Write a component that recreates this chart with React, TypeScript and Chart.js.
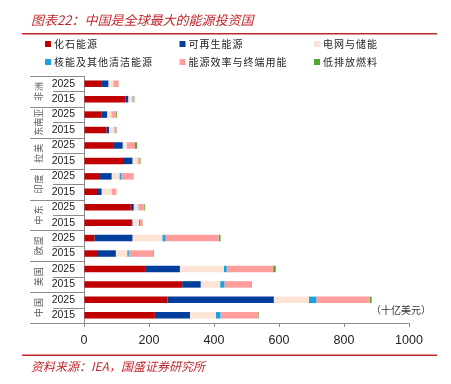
import React, { useEffect, useRef } from "react";
import { Chart, registerables } from "chart.js";
Chart.register(...registerables);

const groups = ["非洲", "东南亚", "拉美", "印度", "中东", "欧盟", "美国", "中国"];
const years = ["2025", "2015"];
const categories = groups.flatMap(() => years);

const seriesNames = ["化石能源", "可再生能源", "电网与储能", "核能及其他清洁能源", "能源效率与终端用能", "低排放燃料"];
const seriesColors = ["#C00000", "#023F9D", "#FBE3D6", "#1CA2DC", "#FF9D9D", "#4EA72E"];

const fossil = [55, 127, 53, 69, 92, 120, 49, 40, 144, 145, 32, 43, 188, 302, 257, 218];
const renewables = [20, 9, 18, 8, 27, 29, 36, 14, 9, 4, 117, 55, 107, 57, 327, 108];
const gridStorage = [15, 12, 13, 16, 13, 16, 24, 31, 14, 20, 92, 35, 135, 60, 108, 80];
const nuclearClean = [1, 1, 1, 1, 1, 1, 6, 1, 1, 3, 10, 5, 9, 13, 23, 14];
const efficiency = [15, 5, 13, 6, 24, 5, 36, 14, 16, 8, 163, 75, 143, 83, 164, 116];
const lowEmission = [1, 1, 3, 1, 6, 3, 1, 0, 3, 1, 6, 2, 8, 2, 6, 2];

const xTicks = [0, 200, 400, 600, 800, 1000];

const title = "图表22：中国是全球最大的能源投资国";
const unitLabel = "（十亿美元）";
const source = "资料来源：IEA，国盛证券研究所";

const RED = "#C0272D";
const CJK = '"Noto Sans CJK SC", sans-serif';

const decorPlugin = {
  id: "decor",
  afterDraw(chart: any) {
    const ctx = chart.ctx as CanvasRenderingContext2D;
    const y = chart.scales.y;
    ctx.save();

    // Title
    ctx.fillStyle = RED;
    ctx.font = `italic 13px ${CJK}`;
    ctx.textBaseline = "middle";
    ctx.textAlign = "left";
    ctx.fillText(title, 31, 20);

    // red rules
    ctx.strokeStyle = RED;
    ctx.lineWidth = 1.6;
    ctx.beginPath();
    ctx.moveTo(22, 33.7);
    ctx.lineTo(437, 33.7);
    ctx.moveTo(22, 355.3);
    ctx.lineTo(437, 355.3);
    ctx.stroke();

    // legend
    const cols = [45, 179.5, 314];
    const rows = [44, 62];
    ctx.font = `10px ${CJK}`;
    (ctx as any).letterSpacing = "1px";
    seriesNames.forEach((name, i) => {
      const cx = cols[i % 3];
      const cy = rows[Math.floor(i / 3)];
      ctx.fillStyle = seriesColors[i];
      ctx.fillRect(cx, cy - 3, 6, 6);
      ctx.fillStyle = "#222";
      ctx.textBaseline = "middle";
      ctx.fillText(name, cx + 9, cy);
    });
    (ctx as any).letterSpacing = "0px";

    // separators
    const p0 = y.getPixelForValue(0);
    const p1 = y.getPixelForValue(1);
    const half = (p1 - p0) / 2;
    const right = chart.chartArea.left;
    ctx.strokeStyle = "#8c8c8c";
    ctx.lineWidth = 1;
    for (let i = 0; i <= categories.length; i++) {
      const yy = Math.round(y.getPixelForValue(i) - half) + 0.5;
      const startX = i % 2 === 0 ? 30 : 53;
      ctx.beginPath();
      ctx.moveTo(startX, yy);
      ctx.lineTo(right, yy);
      ctx.stroke();
    }

    // group labels
    ctx.fillStyle = "#595959";
    ctx.font = `9px ${CJK}`;
    groups.forEach((g, gi) => {
      const cy = (y.getPixelForValue(gi * 2) + y.getPixelForValue(gi * 2 + 1)) / 2;
      (ctx as any).letterSpacing = g.length > 2 ? "0px" : "1px";
      ctx.save();
      ctx.translate(39, cy);
      ctx.rotate(-Math.PI / 2);
      ctx.textAlign = "center";
      ctx.textBaseline = "middle";
      ctx.fillText(g, g.length > 2 ? 0 : 0.5, 0);
      ctx.restore();
    });
    (ctx as any).letterSpacing = "0px";

    // unit label
    ctx.fillStyle = "#333";
    ctx.font = `10px ${CJK}`;
    ctx.textAlign = "left";
    ctx.textBaseline = "middle";
    ctx.fillText(unitLabel, 371, 310);

    // source
    ctx.fillStyle = RED;
    ctx.font = `italic 12px ${CJK}`;
    ctx.fillText(source, 31, 366);

    ctx.restore();
  },
};

export default function App() {
  const ref = useRef<HTMLCanvasElement | null>(null);
  useEffect(() => {
    if (!ref.current) return;
    const seriesData = [fossil, renewables, gridStorage, nuclearClean, efficiency, lowEmission];
    const chart = new Chart(ref.current, {
      type: "bar",
      data: {
        labels: categories,
        datasets: seriesNames.map((name, i) => ({
          label: name,
          data: seriesData[i],
          backgroundColor: seriesColors[i],
          borderWidth: 0,
          categoryPercentage: 1,
          barPercentage: 0.42,
        })),
      },
      options: {
        indexAxis: "y",
        animation: false,
        responsive: false,
        maintainAspectRatio: false,
        layout: { padding: { left: 0, right: 42, top: 76, bottom: 0 } },
        plugins: { legend: { display: false }, tooltip: { enabled: false }, title: { display: false } },
        scales: {
          x: {
            stacked: true,
            min: 0,
            max: 1000,
            afterBuildTicks: (s: any) => {
              s.ticks = xTicks.map((v) => ({ value: v }));
            },
            afterFit: (s: any) => {
              s.height = 61;
            },
            grid: { drawOnChartArea: false, drawTicks: true, tickLength: 4, color: "#8c8c8c" },
            border: { display: true, color: "#8c8c8c" },
            ticks: {
              color: "#222",
              padding: 6,
              font: { family: '"Liberation Sans", sans-serif', size: 12.5 },
              maxRotation: 0,
              callback: (v: any) => String(v),
            },
          },
          y: {
            stacked: true,
            afterFit: (s: any) => {
              s.width = 84;
            },
            grid: { display: false, drawTicks: false },
            border: { display: true, color: "#8c8c8c" },
            ticks: {
              color: "#222",
              padding: 9,
              autoSkip: false,
              font: { family: '"Liberation Sans", sans-serif', size: 10.5 },
            },
          },
        },
      },
      plugins: [decorPlugin],
    });
    return () => chart.destroy();
  }, []);
  return (
    <div style={{ position: "fixed", left: 0, top: 0, width: 451, height: 384, background: "#fff" }}>
      <canvas ref={ref} width={451} height={384} style={{ width: 451, height: 384, display: "block" }} />
    </div>
  );
}
